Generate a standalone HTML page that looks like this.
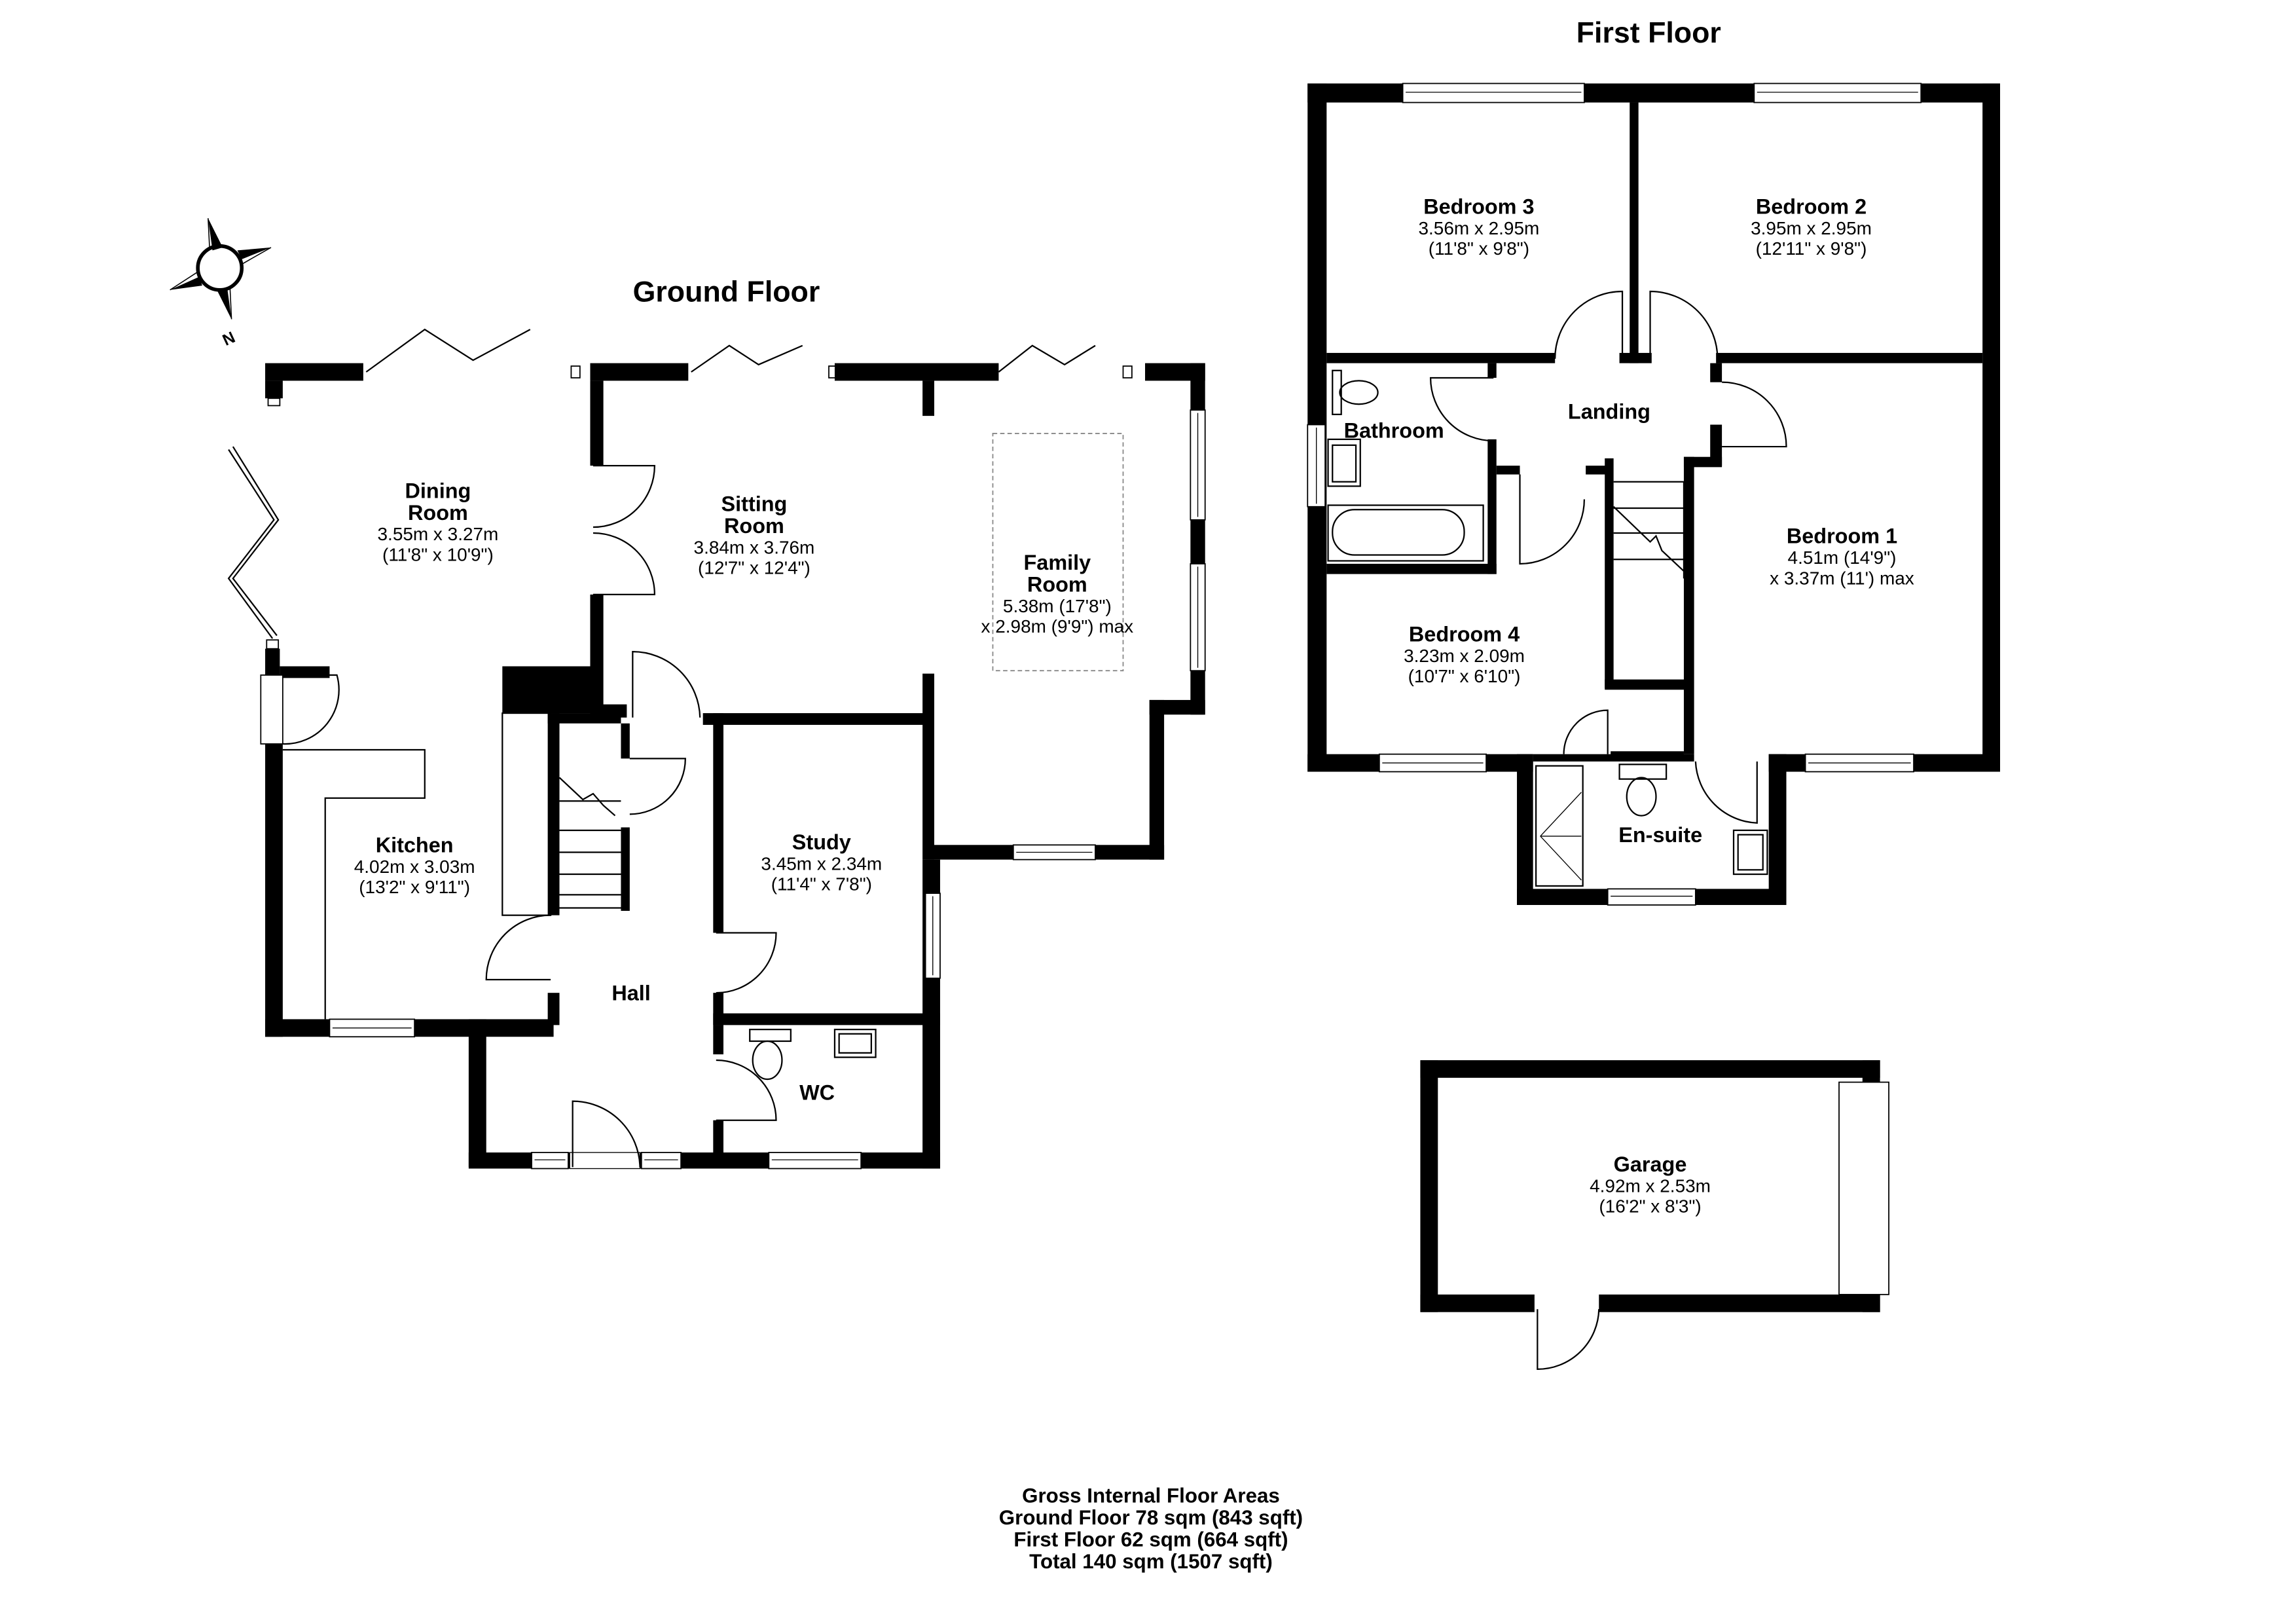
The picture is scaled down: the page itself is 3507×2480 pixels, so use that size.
<!DOCTYPE html>
<html><head><meta charset="utf-8"><style>
html,body{margin:0;padding:0;background:#fff}
svg{display:block}
text{font-family:"Liberation Sans",Arial,sans-serif;fill:#000;text-anchor:middle}
.t{font-size:20px;font-weight:bold}
.r{font-size:14.5px;font-weight:bold}
.d{font-size:12.5px}
.w{fill:#000}
.l{fill:none;stroke:#000;stroke-width:1}
.win{fill:#fff;stroke:#000;stroke-width:0.8}
</style></head><body>
<svg width="3507" height="2480" viewBox="0 0 1568 1109" xmlns="http://www.w3.org/2000/svg">
<rect width="1568" height="1109" fill="#fff"/>

<!-- ===== GROUND FLOOR ===== -->
<text class="t" x="496" y="206">Ground Floor</text>

<!-- compass -->
<g transform="translate(150,183)">
<circle r="15" fill="#fff" stroke="#000" stroke-width="2.5"/>
<polygon points="-8,-34 2,-14 -5,-12" fill="#000"/><line x1="-8" y1="-34" x2="-7" y2="-14" stroke="#000" stroke-width="0.7"/>
<polygon points="35,-14 15,-6 12,-12" fill="#000"/><line x1="35" y1="-14" x2="14" y2="-2" stroke="#000" stroke-width="0.7"/>
<polygon points="-34,15 -14,6 -12,12" fill="#000"/><line x1="-34" y1="15" x2="-14" y2="2" stroke="#000" stroke-width="0.7"/>
<polygon points="8,35 -2,15 5,13" fill="#000"/><line x1="8" y1="35" x2="7" y2="14" stroke="#000" stroke-width="0.7"/>
<text x="6" y="52" style="font-size:11px;font-weight:bold" transform="rotate(-25 6 48)">N</text>
</g>

<!-- top walls -->
<rect class="w" x="181" y="248" width="67" height="12"/>
<rect class="w" x="181" y="260" width="12" height="12"/>
<rect class="win" x="183" y="272" width="8" height="5"/>
<polyline class="l" points="250,254 290,225 323,246 362,225" stroke-width="1.2"/>
<rect class="win" x="390" y="250" width="6" height="8"/>
<rect class="w" x="403" y="248" width="67" height="12"/>
<rect class="w" x="403" y="260" width="9" height="58"/>
<polyline class="l" points="472,254 498,236 518,249 548,236" stroke-width="1.2"/>
<rect class="win" x="566" y="250" width="6" height="8"/>
<rect class="w" x="570" y="248" width="112" height="12"/>
<rect class="w" x="630" y="260" width="8" height="24"/>
<polyline class="l" points="682,254 705,236 727,249 748,236" stroke-width="1.2"/>
<rect class="win" x="767" y="250" width="6" height="8"/>
<rect class="w" x="782" y="248" width="41" height="12"/>
<rect class="w" x="813" y="248" width="10" height="240"/>
<rect class="win" x="813" y="280" width="10" height="75"/>
<line x1="818" y1="282" x2="818" y2="353" stroke="#000" stroke-width="0.6"/>
<rect class="win" x="813" y="385" width="10" height="73"/>
<line x1="818" y1="387" x2="818" y2="456" stroke="#000" stroke-width="0.6"/>
<rect class="w" x="785" y="478" width="38" height="10"/>
<rect class="w" x="785" y="478" width="10" height="109"/>
<rect class="w" x="632" y="577" width="163" height="10"/>
<rect class="win" x="692" y="577" width="56" height="10"/>
<line x1="694" y1="582" x2="746" y2="582" stroke="#000" stroke-width="0.6"/>
<rect class="w" x="630" y="460" width="8" height="127"/>
<rect x="678" y="296" width="89" height="162" fill="none" stroke="#888" stroke-width="0.8" stroke-dasharray="3,2"/>

<!-- sitting room left wall + double doors -->
<path class="l" d="M405,318 L447,318 A42,42 0 0 1 405,360"/>
<path class="l" d="M405,406 L447,406 A42,42 0 0 0 405,364"/>
<rect class="w" x="403" y="406" width="9" height="80"/>
<rect class="w" x="343" y="455" width="65" height="32"/>
<rect class="w" x="403" y="481" width="25" height="9"/>
<path class="l" d="M432,490 L432,445 A46,46 0 0 1 478,490"/>
<rect class="w" x="480" y="487" width="152" height="8"/>

<!-- dining/kitchen left -->
<polyline class="l" points="156,307 187,355 156,395 186,436" stroke-width="1"/>
<polyline class="l" points="159,305 190,355 159,395 189,434" stroke-width="0.6"/>
<rect class="win" x="182" y="437" width="8" height="6"/>
<rect class="w" x="181" y="443" width="10" height="18"/>
<rect class="w" x="191" y="455" width="34" height="8"/>
<rect class="win" x="178" y="461" width="15" height="47"/>
<path class="l" d="M193,508 A37,37 0 0 0 230,461 L193,461"/>
<rect class="w" x="181" y="508" width="12" height="200"/>
<rect class="w" x="181" y="696" width="197" height="12"/>
<rect class="win" x="225" y="696" width="58" height="12"/>
<line x1="227" y1="702" x2="281" y2="702" stroke="#000" stroke-width="0.6"/>
<polyline class="l" points="193,512 290,512 290,545 222,545 222,696"/>
<rect class="l" x="343" y="487" width="33" height="138" fill="none"/>

<!-- hall / stairs -->
<rect class="w" x="374" y="487" width="8" height="138"/>
<rect class="w" x="374" y="487" width="50" height="7"/>
<rect class="w" x="424" y="494" width="6" height="24"/>
<path class="l" d="M430,518 L468,518 A38,38 0 0 1 430,556"/>
<rect class="w" x="424" y="565" width="6" height="57"/>
<g class="l">
<line x1="382" y1="547" x2="424" y2="547"/><line x1="382" y1="567" x2="424" y2="567"/>
<line x1="382" y1="582" x2="424" y2="582"/><line x1="382" y1="597" x2="424" y2="597"/>
<line x1="382" y1="611" x2="424" y2="611"/><line x1="382" y1="620" x2="428" y2="620"/>
<polyline points="382,531 398,546 405,542 412,550 420,557"/>
</g>
<path class="l" d="M376,625 A44,44 0 0 0 332,669 L376,669"/>
<rect class="w" x="374" y="678" width="8" height="22"/>
<rect class="w" x="320" y="696" width="12" height="101"/>
<rect class="w" x="320" y="787" width="322" height="11"/>
<rect class="win" x="363" y="787" width="25" height="11"/><line x1="365" y1="792" x2="386" y2="792" stroke="#000" stroke-width="0.6"/>
<rect class="win" x="438" y="787" width="27" height="11"/><line x1="440" y1="792" x2="463" y2="792" stroke="#000" stroke-width="0.6"/>
<rect x="389" y="787" width="48" height="11" fill="#fff" stroke="#000" stroke-width="0.6"/>
<path class="l" d="M391,797 L391,752 A46,46 0 0 1 437,797"/>
<rect class="win" x="525" y="787" width="63" height="11"/><line x1="527" y1="792" x2="586" y2="792" stroke="#000" stroke-width="0.6"/>

<!-- study -->
<rect class="w" x="487" y="487" width="7" height="150"/>
<path class="l" d="M489,637 L530,637 A41,41 0 0 1 489,678"/>
<rect class="w" x="487" y="678" width="7" height="22"/>
<rect class="w" x="487" y="692" width="155" height="8"/>
<rect class="w" x="487" y="700" width="7" height="20"/>
<path class="l" d="M489,724 A41,41 0 0 1 530,765 L489,765"/>
<rect class="w" x="487" y="765" width="7" height="25"/>
<rect class="w" x="630" y="587" width="12" height="211"/>
<rect class="win" x="632" y="610" width="10" height="58"/><line x1="637" y1="612" x2="637" y2="666" stroke="#000" stroke-width="0.6"/>
<!-- WC fittings -->
<rect class="l" x="512" y="703" width="28" height="8"/>
<ellipse class="l" cx="524" cy="724" rx="10" ry="13"/>
<rect class="l" x="570" y="703" width="28" height="19"/>
<rect class="l" x="573" y="706" width="22" height="13"/>

<text class="r" x="299" y="340">Dining</text>
<text class="r" x="299" y="355">Room</text>
<text class="d" x="299" y="369">3.55m x 3.27m</text>
<text class="d" x="299" y="383">(11'8" x 10'9")</text>
<text class="r" x="515" y="349">Sitting</text>
<text class="r" x="515" y="364">Room</text>
<text class="d" x="515" y="378">3.84m x 3.76m</text>
<text class="d" x="515" y="392">(12'7" x 12'4")</text>
<text class="r" x="722" y="389">Family</text>
<text class="r" x="722" y="404">Room</text>
<text class="d" x="722" y="418">5.38m (17'8")</text>
<text class="d" x="722" y="432">x 2.98m (9'9") max</text>
<text class="r" x="283" y="582">Kitchen</text>
<text class="d" x="283" y="596">4.02m x 3.03m</text>
<text class="d" x="283" y="610">(13'2" x 9'11")</text>
<text class="r" x="561" y="580">Study</text>
<text class="d" x="561" y="594">3.45m x 2.34m</text>
<text class="d" x="561" y="608">(11'4" x 7'8")</text>
<text class="r" x="431" y="683">Hall</text>
<text class="r" x="558" y="751">WC</text>

<!-- ===== FIRST FLOOR ===== -->
<text class="t" x="1126" y="29">First Floor</text>
<rect class="w" x="893" y="57" width="13" height="470"/>
<rect class="w" x="893" y="57" width="473" height="13"/>
<rect class="win" x="958" y="57" width="124" height="13"/><line x1="960" y1="63" x2="1080" y2="63" stroke="#000" stroke-width="0.6"/>
<rect class="win" x="1198" y="57" width="114" height="13"/><line x1="1200" y1="63" x2="1310" y2="63" stroke="#000" stroke-width="0.6"/>
<rect class="w" x="1354" y="57" width="12" height="470"/>
<rect class="w" x="893" y="515" width="154" height="12"/>
<rect class="win" x="942" y="515" width="73" height="12"/><line x1="944" y1="521" x2="1013" y2="521" stroke="#000" stroke-width="0.6"/>
<rect class="w" x="1036" y="515" width="11" height="103"/>
<rect class="w" x="1036" y="607" width="184" height="11"/>
<rect class="win" x="1098" y="607" width="60" height="11"/><line x1="1100" y1="612" x2="1156" y2="612" stroke="#000" stroke-width="0.6"/>
<rect class="w" x="1208" y="515" width="12" height="103"/>
<rect class="w" x="1208" y="515" width="158" height="12"/>
<rect class="win" x="1233" y="515" width="74" height="12"/><line x1="1235" y1="521" x2="1305" y2="521" stroke="#000" stroke-width="0.6"/>
<rect class="win" x="893" y="290" width="12" height="56"/><line x1="899" y1="292" x2="899" y2="344" stroke="#000" stroke-width="0.6"/>
<!-- internal -->
<rect class="w" x="1113" y="70" width="6" height="178"/>
<rect class="w" x="906" y="241" width="156" height="7"/>
<rect class="w" x="1106" y="241" width="22" height="7"/>
<rect class="w" x="1172" y="241" width="182" height="7"/>
<path class="l" d="M1062,245 A46,46 0 0 1 1108,199 L1108,245"/>
<path class="l" d="M1127,245 L1127,199 A46,46 0 0 1 1173,245"/>
<rect class="w" x="1016" y="248" width="6" height="10"/>
<path class="l" d="M1020,258 L977,258 A43,43 0 0 0 1020,301"/>
<rect class="w" x="1016" y="300" width="6" height="92"/>
<rect class="w" x="906" y="385" width="116" height="7"/>
<rect class="w" x="1022" y="318" width="16" height="6"/>
<rect class="w" x="1083" y="318" width="17" height="6"/>
<path class="l" d="M1038,324 L1038,385 A44,44 0 0 0 1082,341"/>
<rect class="w" x="1168" y="248" width="8" height="13"/>
<path class="l" d="M1176,261 A44,44 0 0 1 1220,305 L1176,305"/>
<rect class="w" x="1168" y="290" width="8" height="28"/>
<rect class="w" x="1150" y="312" width="26" height="7"/>
<rect class="w" x="1096" y="313" width="6" height="157"/>
<rect class="w" x="1150" y="312" width="7" height="203"/>
<rect class="w" x="1096" y="464" width="56" height="7"/>
<g class="l">
<line x1="1102" y1="329" x2="1150" y2="329"/><line x1="1102" y1="347" x2="1150" y2="347"/>
<line x1="1102" y1="364" x2="1150" y2="364"/><line x1="1102" y1="382" x2="1150" y2="382"/>
<polyline points="1102,346 1127,370 1131,366 1135,376 1150,390"/>
<line x1="1150" y1="329" x2="1150" y2="395"/>
</g>
<path class="l" d="M1068,515 A30,30 0 0 1 1098,485 L1098,515"/>
<line x1="1100" y1="515" x2="1150" y2="515" stroke="#000" stroke-width="4"/>
<rect class="w" x="1047" y="515" width="110" height="5"/>
<path class="l" d="M1158,520 A44,44 0 0 0 1200,562 L1200,520"/>
<!-- fittings -->
<rect class="l" x="910" y="253" width="6" height="30"/>
<ellipse class="l" cx="928" cy="268" rx="13" ry="8"/>
<rect class="l" x="907" y="300" width="22" height="32"/>
<rect class="l" x="910" y="304" width="16" height="25"/>
<rect class="l" x="907" y="345" width="106" height="38"/>
<rect class="l" x="910" y="348" width="90" height="31" rx="15"/>
<rect class="l" x="1049" y="523" width="32" height="82"/>
<line x1="1052" y1="571" x2="1080" y2="571" stroke="#000" stroke-width="0.6"/>
<line x1="1052" y1="571" x2="1080" y2="541" stroke="#000" stroke-width="0.6"/>
<line x1="1052" y1="571" x2="1080" y2="601" stroke="#000" stroke-width="0.6"/>
<rect class="l" x="1106" y="522" width="32" height="10"/>
<ellipse class="l" cx="1121" cy="544" rx="10" ry="13"/>
<rect class="l" x="1184" y="567" width="23" height="30"/>
<rect class="l" x="1187" y="570" width="17" height="24"/>

<text class="r" x="1010" y="146">Bedroom 3</text>
<text class="d" x="1010" y="160">3.56m x 2.95m</text>
<text class="d" x="1010" y="174">(11'8" x 9'8")</text>
<text class="r" x="1237" y="146">Bedroom 2</text>
<text class="d" x="1237" y="160">3.95m x 2.95m</text>
<text class="d" x="1237" y="174">(12'11" x 9'8")</text>
<text class="r" x="1099" y="286">Landing</text>
<text class="r" x="952" y="299">Bathroom</text>
<text class="r" x="1258" y="371">Bedroom 1</text>
<text class="d" x="1258" y="385">4.51m (14'9")</text>
<text class="d" x="1258" y="399">x 3.37m (11') max</text>
<text class="r" x="1000" y="438">Bedroom 4</text>
<text class="d" x="1000" y="452">3.23m x 2.09m</text>
<text class="d" x="1000" y="466">(10'7" x 6'10")</text>
<text class="r" x="1134" y="575">En-suite</text>

<!-- ===== GARAGE ===== -->
<rect class="w" x="970" y="724" width="314" height="12"/>
<rect class="w" x="970" y="724" width="12" height="172"/>
<rect class="w" x="970" y="884" width="78" height="12"/>
<rect class="w" x="1092" y="884" width="192" height="12"/>
<rect class="w" x="1272" y="724" width="12" height="172"/>
<rect x="1256" y="739" width="34" height="145" fill="#fff" stroke="#000" stroke-width="0.8"/>
<path class="l" d="M1050,894 L1050,935 A42,42 0 0 0 1092,894"/>
<text class="r" x="1127" y="800">Garage</text>
<text class="d" x="1127" y="814">4.92m x 2.53m</text>
<text class="d" x="1127" y="828">(16'2" x 8'3")</text>

<!-- totals -->
<text style="font-size:14px;font-weight:bold" x="786" y="1026">Gross Internal Floor Areas</text>
<text style="font-size:14px;font-weight:bold" x="786" y="1041">Ground Floor 78 sqm (843 sqft)</text>
<text style="font-size:14px;font-weight:bold" x="786" y="1056">First Floor 62 sqm (664 sqft)</text>
<text style="font-size:14px;font-weight:bold" x="786" y="1071">Total 140 sqm (1507 sqft)</text>
</svg>
</body></html>
